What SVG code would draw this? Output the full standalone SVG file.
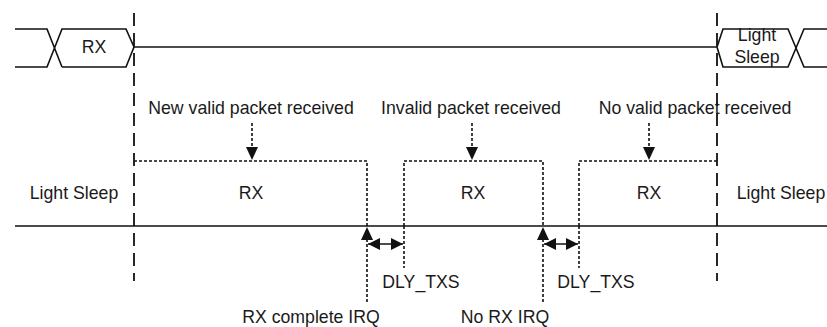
<svg xmlns="http://www.w3.org/2000/svg" width="827" height="327" viewBox="0 0 827 327">
<style>
text{font-family:"Liberation Sans",Arial,sans-serif;font-size:17.7px;fill:#1a1a1a;text-anchor:middle}
.s{fill:none;stroke:#111;stroke-width:1.6}
.dash{fill:none;stroke:#111;stroke-width:1.8;stroke-dasharray:13 7}
.dot{fill:none;stroke:#111;stroke-width:1.6;stroke-dasharray:3 2}
.hd{fill:#111}
</style>
<defs>
<marker id="ah" viewBox="0 0 12 12" refX="12" refY="6" markerWidth="13" markerHeight="12" markerUnits="userSpaceOnUse" orient="auto-start-reverse">
<path d="M0,0 L12,6 L0,12 Z" fill="#111"/>
</marker>
</defs>
<rect width="827" height="327" fill="#fff"/>
<g id="top-waveform">
<path class="s" d="M15,29 H47 L62,67 M15,67 H47 L62,29 H126 L134,47 L126,67 H62"/>
<path class="s" d="M134,47 H717"/>
<path class="s" d="M717,47 L723,29 H788 L804,67 H827 M717,47 L723,67 H788 L804,29 H827"/>
<text x="94" y="53">RX</text>
<text x="757" y="41">Light</text>
<text x="757" y="63">Sleep</text>
</g>
<g id="boundaries">
<path class="dash" d="M134,13 V281"/>
<path class="dash" d="M717,13 V281"/>
</g>
<g id="baseline">
<path class="s" d="M15,226 H827"/>
</g>
<g id="sleep-left"><text x="74" y="199">Light Sleep</text></g>
<g id="rx1">
<path class="dot" d="M134,161 H367 V226"/>
<text x="251" y="199">RX</text>
</g>
<g id="rx2">
<path class="dot" d="M404,226 V161 H543 V226"/>
<text x="473" y="199">RX</text>
</g>
<g id="rx3">
<path class="dot" d="M579,226 V161 H717"/>
<text x="649" y="199">RX</text>
</g>
<g id="sleep-right"><text x="781" y="199">Light Sleep</text></g>
<g id="event-labels">
<text x="251" y="114">New valid packet received</text>
<text x="471" y="114">Invalid packet received</text>
<text x="695" y="114">No valid packet received</text>
<text x="421" y="288">DLY_TXS</text>
<text x="596" y="288">DLY_TXS</text>
<text x="311" y="323">RX complete IRQ</text>
<text x="505" y="323">No RX IRQ</text>
</g>
<g id="connectors">
<path class="dot" d="M252,123 V148"/>
<path class="hd" d="M246,147 H258 L252,160 Z"/>
<path class="dot" d="M472,123 V148"/>
<path class="hd" d="M466,147 H478 L472,160 Z"/>
<path class="dot" d="M649,123 V148"/>
<path class="hd" d="M643,147 H655 L649,160 Z"/>
<path class="dot" d="M367,239 V304"/>
<path class="hd" d="M361,240 H373 L367,227 Z"/>
<path class="dot" d="M543,239 V304"/>
<path class="hd" d="M537,240 H549 L543,227 Z"/>
<path class="dot" d="M404,226 V268"/>
<path class="dot" d="M579,226 V268"/>
<path class="s" d="M368,244 H403" marker-start="url(#ah)" marker-end="url(#ah)"/>
<path class="s" d="M544,244 H578" marker-start="url(#ah)" marker-end="url(#ah)"/>
</g>
</svg>
